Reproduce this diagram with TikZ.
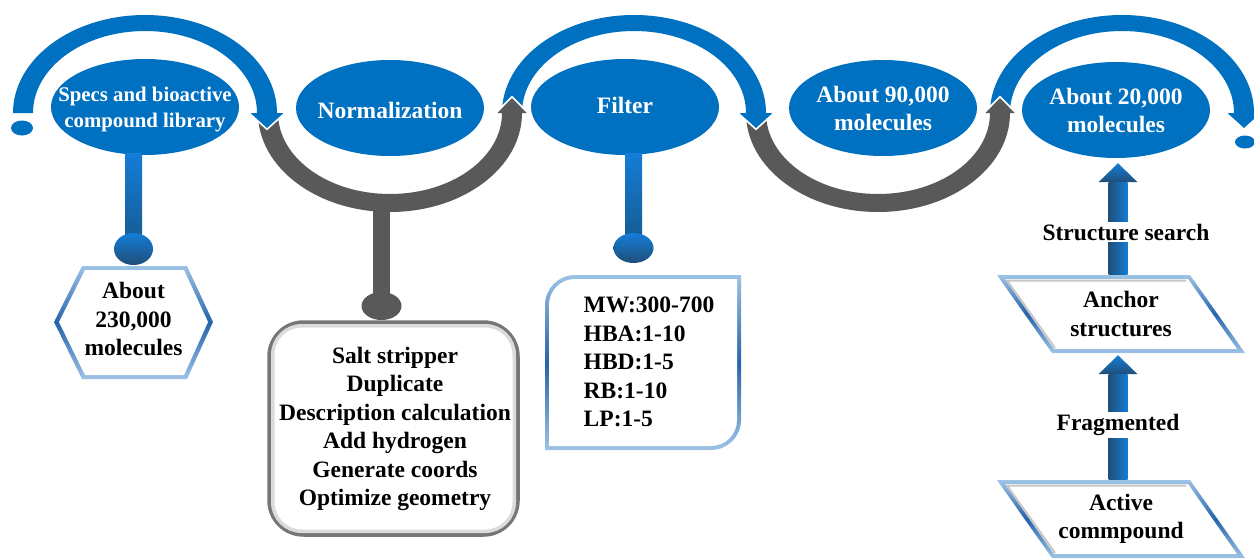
\documentclass[tikz,border=0pt]{standalone}
\usepackage{fontspec}
\setmainfont{Liberation Serif}
\usetikzlibrary{shapes.geometric,calc}
\definecolor{mblue}{RGB}{0,112,192}
\definecolor{mgray}{RGB}{89,89,89}
\definecolor{lblue}{RGB}{157,195,230}
\definecolor{dblue}{RGB}{38,100,170}
\definecolor{bgray}{RGB}{118,118,118}
\definecolor{navy}{RGB}{31,78,121}
\definecolor{brblue}{RGB}{20,125,215}
\newcommand\blueArc[1]{\fill[mblue] ({#1-132},-113) arc[start angle=180,end angle=0,x radius=132,y radius=98] -- ({#1+112},-113) arc[start angle=0,end angle=180,x radius=112,y radius=82] -- cycle;}
\newcommand\grayArc[1]{\fill[mgray] ({#1-132},-113) arc[start angle=180,end angle=360,x radius=132,y radius=99] -- ({#1+112},-113) arc[start angle=360,end angle=180,x radius=112,y radius=81] -- cycle;}
\newcommand\downHead[1]{\fill[mblue] ({#1-17.5},-113) -- ({#1+17.5},-113) -- (#1,-128.5) -- cycle;
  \draw[white,line width=1.6pt] ({#1-18.5},-112.5) -- (#1,-129.3) -- ({#1+18.5},-112.5);}
\newcommand\upHead[1]{\fill[mgray] ({#1-15.5},-113) -- ({#1+15.5},-113) -- (#1,-97.5) -- cycle;
  \draw[white,line width=1.6pt] ({#1-16.5},-113.5) -- (#1,-96.7) -- ({#1+16.5},-113.5);}
\newcommand\bigUp[2]{%
  \shade[left color=navy,right color=brblue] ($(#1)+(-9.5,0)$) rectangle ($(#2)+(9.5,-19)$);
  \shade[top color=brblue,bottom color=navy] ($(#2)+(-19.5,-19)$) -- (#2) -- ($(#2)+(19.5,-19)$) -- cycle;}
\begin{document}
\begin{tikzpicture}[x=1pt,y=1pt,
  wt/.style={text=white,font=\bfseries\fontsize{23.5}{28}\selectfont,align=center,inner sep=0pt},
  bt/.style={text=black,font=\bfseries\fontsize{23.5}{28.5}\selectfont,align=center,inner sep=1pt},
  ell/.style={ellipse,fill=mblue,minimum width=188pt,minimum height=96pt,inner sep=0pt},
  bdot/.style={ellipse,inner sep=0pt,top color=brblue,bottom color=navy},
  gdot/.style={ellipse,inner sep=0pt,fill=mgray},
  lbl/.style={bt,fill=white,inner sep=2pt},
  stemshade/.style={top color=brblue,bottom color=navy!70!mblue},
  ringshade/.style={top color=lblue,bottom color=lblue,middle color=dblue}]
\useasboundingbox (0,0) rectangle (1254,-560);
\clip (0,0) rectangle (1254,-560);

% --- wave of arcs ---
\grayArc{390}
\grayArc{878}
\blueArc{145}
\blueArc{634}
\blueArc{1122}
\downHead{267}
\downHead{756}
\downHead{1244}
\upHead{512}
\upHead{1000}
\fill[mblue] (22,-128) ellipse[x radius=11,y radius=7.5];
\fill[mblue] (1245,-142) ellipse[x radius=10,y radius=6.5];

% --- ellipses ---
\node[ell] (e1) at (145,-107) {};
\node[ell] (e2) at (390,-108) {};
\node[ell] (e3) at (625,-107) {};
\node[ell] (e4) at (883,-108) {};
\node[ell] (e5) at (1116,-110) {};
\node[wt,font=\bfseries\fontsize{20.8}{26}\selectfont] (t1) at (145,-110) {Specs and bioactive\\compound library};
\node[wt] (t2) at (390,-110) {Normalization};
\node[wt] (t3) at (625,-105) {Filter};
\node[wt] (t4) at (883,-108.5) {About 90,000\\molecules};
\node[wt] (t5) at (1116,-110) {About 20,000\\molecules};

% --- branch 1: hexagon ---
\coordinate (d1c) at (133.5,-249);
\shade[stemshade] ($(e1.south)+(-20,2)$) rectangle ($(d1c)+(8.5,0)$);
\node[bdot,minimum width=39pt,minimum height=32pt] (d1) at (d1c) {};
\shade[ringshade] (54,-322) -- (82,-266) -- (187,-266) -- (213,-322) -- (187,-379) -- (82,-379) -- cycle;
\fill[white] (59,-322) -- (85,-270) -- (184,-270) -- (208,-322) -- (184,-375) -- (85,-375) -- cycle;
\node[bt] (hex) at (133.5,-319) {About\\230,000\\molecules};

% --- branch 2: normalization box ---
\coordinate (d2c) at (381.5,-306);
\fill[mgray] (373,-200) rectangle ($(d2c)+(8.5,0)$);
\node[gdot,minimum width=40pt,minimum height=28pt] (d2) at (d2c) {};
\node[draw=bgray,line width=4.5pt,fill=white,rounded corners=34pt,minimum width=248pt,minimum height=212pt] (nb) at (393.5,-428.5) {};
\draw[gray!28,line width=3.5pt,rounded corners=29pt] ($(nb.south west)+(5.5,5.5)$) rectangle ($(nb.north east)+(-5.5,-5.5)$);
\node[bt] (nbt) at (395,-429) {Salt stripper\\Duplicate\\Description calculation\\Add hydrogen\\Generate coords\\Optimize geometry};

% --- branch 3: filter box ---
\coordinate (d3c) at (633.5,-248);
\shade[stemshade] ($(e3.south)+(0,2)$) rectangle ($(d3c)+(8.5,0)$);
\node[bdot,minimum width=40pt,minimum height=30pt] (d3) at (d3c) {};
\shade[ringshade] (545,-450) -- (545,-305) arc[start angle=180,end angle=90,radius=30] -- (741,-275) -- (741,-420) arc[start angle=0,end angle=-90,radius=30] -- cycle;
\fill[white] (549,-446) -- (549,-305) arc[start angle=180,end angle=90,radius=26] -- (737,-279) -- (737,-420) arc[start angle=0,end angle=-90,radius=26] -- cycle;
\node[bt,align=left] (fb) at (649,-362) {MW:300-700\\HBA:1-10\\HBD:1-5\\RB:1-10\\LP:1-5};

% --- right column ---
\shade[ringshade] (997,-275) -- (1190,-275) -- (1245,-353) -- (1052,-353) -- cycle;
\fill[white] (1005,-279) -- (1188,-279) -- (1237,-349) -- (1054,-349) -- cycle;
\draw[gray!45,line width=2pt] (1055,-348) -- (1007,-280.5) -- (1186,-280.5);
\node[bt,minimum height=78pt,minimum width=190pt,inner sep=0pt] (p1) at (1121,-314) {Anchor\\structures};

\shade[ringshade] (997,-480) -- (1190,-480) -- (1245,-558) -- (1052,-558) -- cycle;
\fill[white] (1005,-484) -- (1188,-484) -- (1237,-554) -- (1054,-554) -- cycle;
\draw[gray!45,line width=2pt] (1055,-553) -- (1007,-485.5) -- (1186,-485.5);
\node[bt,minimum height=78pt,minimum width=190pt,inner sep=0pt] (p2) at (1121,-519) {Active\\commpound};

\coordinate (a1b) at ($(p1.north)+(-3,0)$);
\coordinate (a1t) at ($(e5.south)+(2,-5)$);
\bigUp{a1b}{a1t}
\coordinate (a2b) at ($(p2.north)+(-3,0)$);
\coordinate (a2t) at ($(p1.south)+(-3,-2)$);
\bigUp{a2b}{a2t}
\node[lbl] (ss) at (1126,-232) {Structure search};
\node[lbl] (fr) at (1118,-425) {Fragmented};
\end{tikzpicture}
\end{document}
